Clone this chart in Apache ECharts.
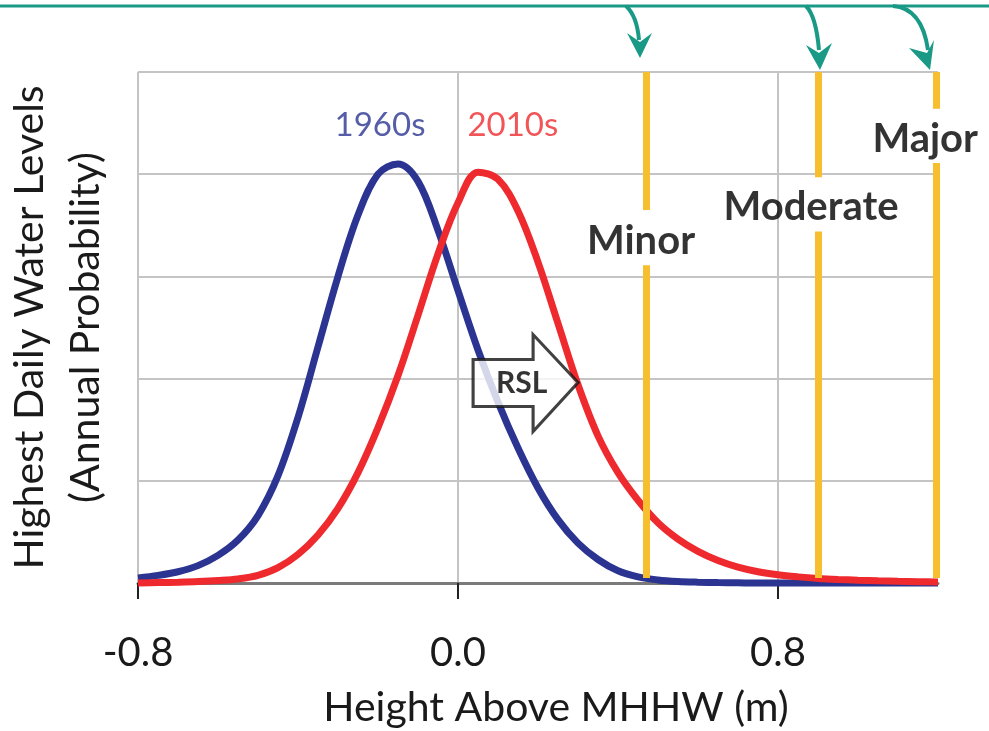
<!DOCTYPE html>
<html>
<head>
<meta charset="utf-8">
<script src="https://cdn.jsdelivr.net/npm/echarts@6/dist/echarts.min.js"></script>
<style>
html,body{margin:0;padding:0;background:#fff;}
#chart{width:989px;height:731px;}
</style>
</head>
<body>
<div id="chart"></div>
<script>
// ---- data ----
var heights = [-0.80,-0.75,-0.70,-0.65,-0.60,-0.55,-0.50,-0.45,-0.40,-0.35,-0.30,-0.25,-0.20,-0.15,-0.10,-0.05,
  0.00,0.05,0.10,0.15,0.20,0.25,0.30,0.35,0.40,0.45,0.50,0.55,0.60,0.65,0.70,0.75,0.80,0.85,0.90,0.95,1.00,1.05,1.10,1.15,1.20];
var prob1960s = [0.05,0.075,0.11,0.17,0.27,0.42,0.66,1.05,1.62,2.31,3.00,3.60,4.00,4.10,3.93,3.45,
  2.86,2.28,1.77,1.32,0.93,0.62,0.39,0.23,0.12,0.06,0.03,0.015,0.008,0.004,0.002,0,0,0,0,0,0,0,0,0,0];
var prob2010s = [0.00,0.004,0.008,0.014,0.024,0.04,0.075,0.15,0.28,0.47,0.73,1.08,1.52,2.03,2.62,3.22,
  3.72,4.02,3.95,3.64,3.14,2.54,1.94,1.44,1.08,0.81,0.59,0.43,0.31,0.22,0.155,0.11,0.08,0.06,0.045,0.035,0.028,0.022,0.017,0.013,0.01];
var seriesNames = ['1960s','2010s'];
var floodNames = ['Minor','Moderate','Major'];
var floodLevels = [0.47, 0.90, 1.195];
var xTickValues = [-0.8, 0, 0.8];
var xTickLabels = ['-0.8','0.0','0.8'];
var arrowLabel = 'RSL';

// ---- layout / style (not data) ----
var floodGapBottom = [3.11, 3.44, 4.11];
var floodGapTop = [3.65, 3.97, 4.64];
var floodLabelPos = [[0.4575, 3.35],[0.8825, 3.68],[1.168, 4.34]];
var seriesLabelPos = [[-0.195, 4.48],[0.137, 4.48]];
var arrowPos = [0.169, 1.957];
var BLUE = '#2B3491', RED = '#EE2A2E', YEL = '#F7BE2E', TEAL = '#1A9A86';
var FONT = 'Lato';

function pairs(xs, ys){ return xs.map(function(x,i){ return [x, ys[i]]; }); }

var chart = echarts.init(document.getElementById('chart'), null, {renderer:'canvas'});

var floodMarkData = [];
floodLevels.forEach(function(x,i){
  floodMarkData.push([{coord:[x,0.05]},{coord:[x,floodGapBottom[i]]}]);
  floodMarkData.push([{coord:[x,floodGapTop[i]]},{coord:[x,5]}]);
});

var option = {
  animation:false,
  backgroundColor:'#ffffff',
  grid:{left:138, right:51, top:72, bottom:148, containLabel:false, outerBoundsMode:'none'},
  xAxis:{
    type:'value', min:-0.8, max:1.2, interval:0.4,
    name:'Height Above MHHW (m)', nameLocation:'middle', nameGap:104,
    nameTextStyle:{fontFamily:FONT, fontSize:41, color:'#1a1a1a', padding:[0,0,0,36]},
    axisLine:{show:true, onZero:false, lineStyle:{color:'#7a7a7a', width:3}},
    axisTick:{show:true, customValues:xTickValues, length:16, lineStyle:{color:'#222', width:2}},
    axisLabel:{show:true, customValues:xTickValues, margin:50, fontFamily:FONT, fontSize:40, color:'#1a1a1a',
      formatter:function(v){ for(var i=0;i<xTickValues.length;i++){ if(Math.abs(v-xTickValues[i])<1e-6) return xTickLabels[i]; } return ''; }},
    splitLine:{show:true, lineStyle:{color:'#c4c4c4', width:2}}
  },
  yAxis:{
    type:'value', min:0, max:5, interval:1,
    name:'Highest Daily Water Levels\n(Annual Probability)', nameLocation:'middle', nameRotate:90, nameGap:24,
    nameTextStyle:{fontFamily:FONT, fontSize:41, color:'#1a1a1a', lineHeight:56},
    axisLine:{show:false}, axisTick:{show:false}, axisLabel:{show:false},
    splitLine:{show:true, lineStyle:{color:'#c4c4c4', width:2}}
  },
  series:[
    {name:seriesNames[0], type:'line', data:pairs(heights, prob1960s), smooth:0.35, showSymbol:false, clip:false,
     lineStyle:{color:BLUE, width:7}, z:3},
    {name:seriesNames[1], type:'line', data:pairs(heights, prob2010s), smooth:0.35, showSymbol:false, clip:false,
     lineStyle:{color:RED, width:7}, z:4},
    {type:'line', data:[], z:5, markLine:{silent:true, symbol:['none','none'], animation:false,
      lineStyle:{color:YEL, width:7, type:'solid'}, label:{show:false}, data:floodMarkData}},
    {type:'scatter', symbolSize:0, z:6, silent:true,
     data:floodNames.map(function(n,i){ return {value:floodLabelPos[i], name:n}; }),
     label:{show:true, position:'inside', formatter:'{b}', fontFamily:FONT, fontWeight:'bold', fontSize:40, color:'#000'}},
    {type:'scatter', symbolSize:0, z:6, silent:true,
     data:seriesNames.map(function(n,i){ return {value:seriesLabelPos[i], name:n,
        label:{color:i===0?BLUE:RED}}; }),
     label:{show:true, position:'inside', formatter:'{b}', fontFamily:FONT, fontSize:33}},
    {type:'scatter', z:7, silent:true,
     symbol:'path://M0,25 L60,25 L60,0 L105,48 L60,97 L60,72 L0,72 Z', symbolSize:[105,97], symbolKeepAspect:false,
     itemStyle:{color:'#ffffff', borderColor:'#111', borderWidth:3},
     data:[{value:arrowPos, name:arrowLabel}],
     label:{show:true, position:'inside', offset:[-4,0], formatter:'{b}', fontFamily:FONT, fontWeight:'bold', fontSize:30, color:'#000'}}
  ]
};
chart.setOption(option);

// teal pointer arrows anchored to flood levels
var lineY = 6;
var arrowSpecs = [
  {sx:-20, cx:-9, cy:16, ex:-7, ey:40, tip:[-6,58], b1:[-19,33], b2:[6,33], n:[-6,42]},
  {sx:-12, cx:-2, cy:16, ex:1,  ey:50, tip:[2,70],  b1:[-12,45], b2:[14,43], n:[1,53]},
  {sx:-43, cx:-14, cy:8, ex:-8, ey:50, tip:[-6,70], b1:[-27,48], b2:[-2,40], n:[-9,53]}
];
var graphics = [{type:'line', shape:{x1:0,y1:lineY,x2:989,y2:lineY}, style:{stroke:TEAL, lineWidth:3}, z:10}];
floodLevels.forEach(function(x,i){
  var px = chart.convertToPixel({gridIndex:0}, [x, 5])[0];
  var a = arrowSpecs[i];
  graphics.push({type:'bezierCurve', shape:{x1:px+a.sx, y1:lineY, cpx1:px+a.cx, cpy1:a.cy, x2:px+a.ex, y2:a.ey},
    style:{stroke:TEAL, lineWidth:4, fill:null}, z:10});
  graphics.push({type:'polygon', shape:{points:[[px+a.tip[0],a.tip[1]],[px+a.b1[0],a.b1[1]],[px+a.n[0],a.n[1]],[px+a.b2[0],a.b2[1]]]},
    style:{fill:TEAL}, z:10});
});
chart.setOption({graphic:graphics});
</script>
</body>
</html>
